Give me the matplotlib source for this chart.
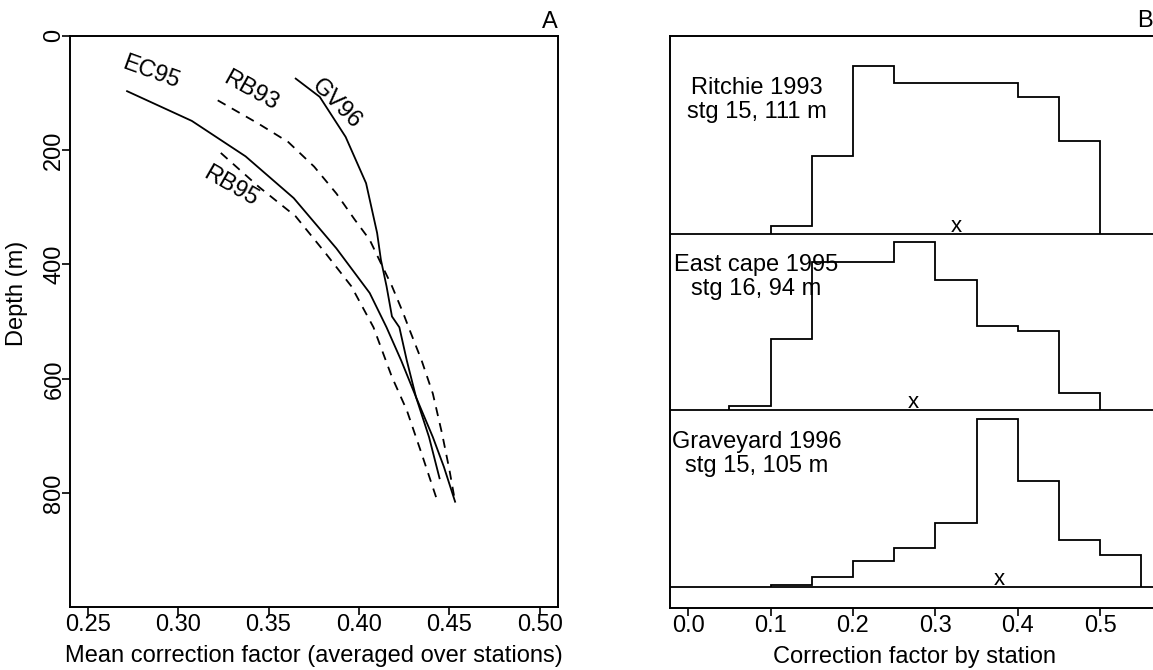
import matplotlib
matplotlib.use("Agg")
import matplotlib.pyplot as plt
import numpy as np

plt.rcParams['font.family'] = ['Liberation Sans', 'DejaVu Sans']
plt.rcParams['font.size'] = 17

# --- panel A: mean correction factor vs depth ---
ec95_x = [0.2718, 0.3076, 0.3373, 0.3639, 0.3875, 0.4059, 0.4152, 0.4233, 0.4315, 0.4408, 0.4469, 0.4531]
ec95_d = [97, 149, 211, 284, 372, 450, 510, 568, 632, 702, 754, 815]

gv96_x = [0.3650, 0.3783, 0.3926, 0.4039, 0.4100, 0.4121, 0.4152, 0.4182, 0.4223, 0.4264, 0.4315, 0.4387, 0.4445]
gv96_d = [75, 107, 177, 258, 345, 392, 438, 491, 510, 568, 632, 702, 774]

rb93_x = [0.3219, 0.3445, 0.3609, 0.3752, 0.3875, 0.3977, 0.4059, 0.4121, 0.4182, 0.4244, 0.4274, 0.4346, 0.4408, 0.4459, 0.4500, 0.4531]
rb93_d = [113, 154, 186, 229, 276, 322, 357, 398, 438, 485, 510, 568, 626, 696, 760, 815]

rb95_x = [0.3236, 0.3445, 0.3650, 0.3814, 0.3957, 0.4080, 0.4182, 0.4264, 0.4346, 0.4428]
rb95_d = [205, 264, 316, 380, 438, 510, 597, 655, 731, 809]

# --- panel B: correction factor by station (relative frequency, peak = 1) ---
site_labels = ["Ritchie 1993\nstg 15, 111 m", "East cape 1995\nstg 16, 94 m", "Graveyard 1996\nstg 15, 105 m"]
site_edges = [
    [0.10, 0.15, 0.20, 0.25, 0.30, 0.35, 0.40, 0.45, 0.50],
    [0.05, 0.10, 0.15, 0.20, 0.25, 0.30, 0.35, 0.40, 0.45, 0.50],
    [0.10, 0.15, 0.20, 0.25, 0.30, 0.35, 0.40, 0.45, 0.50, 0.55],
]
site_freq = [
    [0.048, 0.465, 1.0, 0.899, 0.899, 0.899, 0.813, 0.551],
    [0.026, 0.427, 0.885, 0.885, 1.0, 0.776, 0.504, 0.472, 0.101],
    [0.014, 0.059, 0.154, 0.230, 0.384, 1.0, 0.632, 0.283, 0.190],
]
site_mean = [0.3256, 0.2735, 0.378]

fig = plt.figure(figsize=(11.53, 6.70), dpi=100)
ax1 = fig.add_axes([0.0603, 0.0933, 0.4237, 0.8534])
ax2 = fig.add_axes([0.5811, 0.0921, 0.4245, 0.8546])

lw = 1.3
ax1.plot(ec95_x, ec95_d, color='black', lw=lw)
ax1.plot(gv96_x, gv96_d, color='black', lw=lw)
ax1.plot(rb93_x, rb93_d, color='black', lw=lw, dashes=(5, 4))
ax1.plot(rb95_x, rb95_d, color='black', lw=lw, dashes=(5, 4))

ax1.text(0.285, 64, 'EC95', rotation=-20, ha='center', va='center')
ax1.text(0.3404, 96, 'RB93', rotation=-29, ha='center', va='center')
ax1.text(0.3875, 119, 'GV96', rotation=-45, ha='center', va='center')
ax1.text(0.329, 264, 'RB95', rotation=-30, ha='center', va='center')

ax1.set_xlim(0.24, 0.51)
ax1.set_ylim(1000, 0)
ax1.set_xticks([0.25, 0.30, 0.35, 0.40, 0.45, 0.50])
ax1.set_xticklabels(['0.25', '0.30', '0.35', '0.40', '0.45', '0.50'])
ax1.set_yticks([0, 200, 400, 600, 800])
ax1.set_yticklabels(['0', '200', '400', '600', '800'], rotation=90, va='center')
ax1.tick_params(axis='x', direction='out', length=6, width=1.2, pad=-1)
ax1.tick_params(axis='y', direction='out', length=6, width=1.2, pad=-3)
ax1.set_xlabel('Mean correction factor (averaged over stations)', labelpad=6)
ax1.set_ylabel('Depth (m)')
ax1.yaxis.set_label_coords(-0.085, 0.55)
ax1.text(1.0, 1.005, 'A', transform=ax1.transAxes, ha='right', va='bottom')

# stacked histograms, top to bottom
n = len(site_labels)
for i in range(n):
    base = n - 1 - i
    heights = base + 0.95 * np.array(site_freq[i])
    ax2.stairs(heights, site_edges[i], baseline=base, fill=False, color='black', lw=lw)
    ax2.axhline(base, color='black', lw=lw)
    ax2.text(0.083, base + 0.755, site_labels[i], ha='center', va='center', linespacing=1.1)
    ax2.text(site_mean[i], base + 0.012, 'x', ha='center', va='baseline', fontsize=16)

ax2.set_xlim(-0.022, 0.572)
ax2.set_ylim(-0.12, 3.12)
ax2.set_xticks([0.0, 0.1, 0.2, 0.3, 0.4, 0.5])
ax2.set_xticklabels(['0.0', '0.1', '0.2', '0.3', '0.4', '0.5'])
ax2.set_yticks([])
ax2.tick_params(axis='x', direction='out', length=6, width=1.2, pad=-1)
ax2.set_xlabel('Correction factor by station', labelpad=6)
fig.text(0.9995, ax2.get_position().y1 + 0.005, 'B', ha='right', va='bottom')

for ax in (ax1, ax2):
    for sp in ax.spines.values():
        sp.set_linewidth(1.4)

fig.savefig('out.png', dpi=100)
